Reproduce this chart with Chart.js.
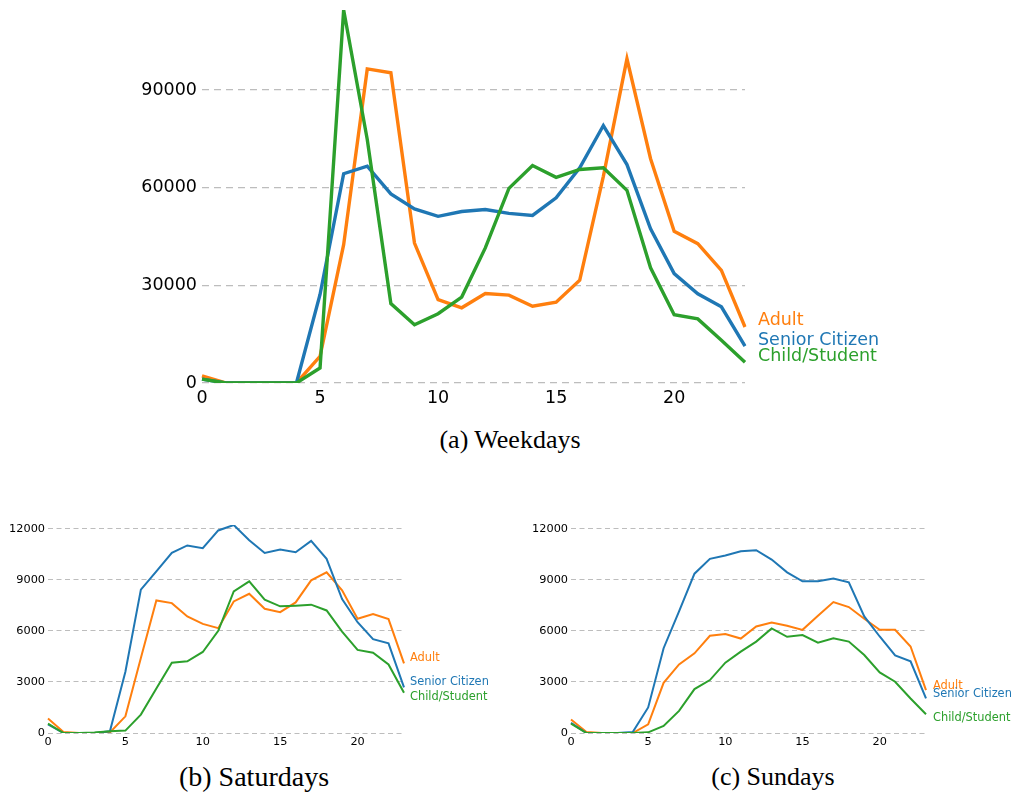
<!DOCTYPE html>
<html>
<head>
<meta charset="utf-8">
<script src="https://cdn.jsdelivr.net/npm/chart.js@4.4.1/dist/chart.umd.min.js"></script>
<style>
    body { margin: 0; background: #fff; width: 1016px; height: 794px; position: relative; overflow: hidden; }
    .box { position: absolute; }
    .caption { position: absolute; font-family: "Liberation Serif", "Times New Roman", serif; color: #000; transform: translate(-50%, -50%); white-space: nowrap; }
</style>
</head>
<body>
<div class="box" style="left:0;top:0;width:1016px;height:420px"><canvas id="weekdayChart"></canvas></div>
<div class="box" style="left:0;top:500px;width:508px;height:250px"><canvas id="saturdayChart"></canvas></div>
<div class="box" style="left:508px;top:500px;width:508px;height:250px"><canvas id="sundayChart"></canvas></div>
<div class="caption" style="left:510px;top:440px;font-size:26px">(a) Weekdays</div>
<div class="caption" style="left:254px;top:777px;font-size:28px">(b) Saturdays</div>
<div class="caption" style="left:773px;top:777px;font-size:26px">(c) Sundays</div>

<script>
// hours of the day
const hours = [0,1,2,3,4,5,6,7,8,9,10,11,12,13,14,15,16,17,18,19,20,21,22,23];
const groups = ['Adult', 'Senior Citizen', 'Child/Student'];

// weekday ridership per hour
const weekdayAdult  = [2200,0,0,0,0,8200,42500,96500,95300,43000,25600,23100,27500,27000,23600,24800,31600,63500,99600,68900,46600,42800,34600,17200];
const weekdaySenior = [1200,0,0,0,0,27200,64300,66600,58100,53500,51200,52700,53300,52100,51500,56900,66100,79100,67100,47400,33600,27400,23400,11300];
const weekdayChild  = [1200,0,0,0,0,4600,114600,74800,24400,17900,21300,26400,41500,59800,66800,63200,65600,66100,59200,35400,21000,19700,13100,6400];

// saturday
const saturdayAdult  = [850,60,0,0,30,980,4400,7790,7630,6850,6410,6160,7730,8180,7300,7100,7670,8970,9440,8380,6710,6990,6690,4090];
const saturdaySenior = [510,0,0,0,100,3600,8420,9500,10580,11020,10860,11900,12220,11330,10580,10780,10620,11290,10230,7870,6510,5510,5270,2680];
const saturdayChild  = [550,0,0,30,100,140,1080,2620,4130,4210,4760,6000,8320,8910,7830,7440,7480,7540,7200,5960,4880,4720,4030,2360];

// sunday
const sundayAdult  = [790,60,0,0,0,510,2950,4030,4680,5710,5820,5550,6260,6490,6300,6060,6890,7690,7400,6710,6060,6060,5080,2520];
const sundaySenior = [590,0,0,0,60,1500,4980,7140,9360,10230,10430,10680,10740,10190,9440,8910,8910,9070,8850,6850,5670,4560,4210,2030];
const sundayChild  = [550,0,0,0,0,40,410,1300,2580,3110,4130,4780,5370,6140,5650,5750,5310,5570,5370,4580,3560,3010,2030,1100];

const weekdayTicks = [0, 30000, 60000, 90000];
const weekendTicks = [0, 3000, 6000, 9000, 12000];

const colors = ['#ff7f0e', '#1f77b4', '#2ca02c'];

// writes each group's name just right of where its line ends
const endLabels = {
    id: 'endLabels',
    afterDatasetsDraw(chart, args, opts) {
        const ctx = chart.ctx;
        const yScale = chart.scales.y;
        ctx.save();
        ctx.font = opts.size + 'px "DejaVu Sans"';
        ctx.textAlign = 'left';
        ctx.textBaseline = 'middle';
        chart.data.datasets.forEach((ds, i) => {
            const y = yScale.getPixelForValue(ds.data[ds.data.length - 1]) + opts.dy[i];
            ctx.fillStyle = ds.borderColor;
            ctx.fillText(ds.label, chart.chartArea.right + opts.dx, y);
        });
        ctx.restore();
    }
};

function makeChart(id, series, cfg) {
    const datasets = series.map((data, i) => ({
        label: groups[i],
        data: data,
        borderColor: colors[i],
        backgroundColor: colors[i],
        borderWidth: cfg.lineWidth,
        pointRadius: 0,
        tension: 0,
        order: 3 - i
    }));
    const ctx = document.getElementById(id).getContext('2d');
    return new Chart(ctx, {
        type: 'line',
        data: { labels: hours, datasets: datasets },
        options: {
            responsive: true,
            maintainAspectRatio: false,
            animation: false,
            layout: { padding: { top: cfg.top, right: cfg.right, left: 0, bottom: 0 } },
            plugins: {
                legend: { display: false },
                tooltip: { enabled: false },
                endLabels: { size: cfg.labelSize, dx: cfg.labelDx, dy: cfg.labelDy }
            },
            scales: {
                x: {
                    type: 'category',
                    offset: false,
                    border: { display: false },
                    grid: { display: false, drawTicks: false },
                    ticks: {
                        autoSkip: false,
                        maxRotation: 0,
                        padding: cfg.xPad,
                        color: '#000',
                        font: { family: 'DejaVu Sans', size: cfg.tickSize },
                        callback: function(val, i) { return hours[i] % 5 === 0 ? String(hours[i]) : null; }
                    },
                    afterFit: function(scale) { scale.height = cfg.xHeight; }
                },
                y: {
                    min: 0,
                    max: cfg.max,
                    border: { display: false, dash: cfg.dash },
                    grid: {
                        color: '#bdbdbd',
                        lineWidth: cfg.gridWidth,
                        drawTicks: false
                    },
                    ticks: {
                        padding: cfg.yPad,
                        color: '#000',
                        font: { family: 'DejaVu Sans', size: cfg.tickSize },
                        callback: function(v) { return String(v); }
                    },
                    afterBuildTicks: function(scale) {
                        scale.ticks = cfg.ticks.map(v => ({ value: v }));
                    },
                    afterFit: function(scale) {
                        scale.width = cfg.yWidth;
                        scale.paddingTop = 0;
                        scale.paddingBottom = 0;
                    }
                }
            }
        },
        plugins: [endLabels]
    });
}

makeChart('weekdayChart', [weekdayAdult, weekdaySenior, weekdayChild], {
    max: Math.max(...weekdayAdult, ...weekdaySenior, ...weekdayChild),
    ticks: weekdayTicks,
    top: 10, right: 271, yWidth: 202, xHeight: 37,
    tickSize: 17.5, xPad: 5, yPad: 5,
    lineWidth: 3.4, gridWidth: 1.3, dash: [7, 5],
    labelSize: 17.5, labelDx: 13, labelDy: [-7, -5.5, -5.5]
});

const weekendMax = Math.max(...saturdayAdult, ...saturdaySenior, ...saturdayChild,
                            ...sundayAdult, ...sundaySenior, ...sundayChild);

makeChart('saturdayChart', [saturdayAdult, saturdaySenior, saturdayChild], {
    max: weekendMax,
    ticks: weekendTicks,
    top: 25, right: 104, yWidth: 48, xHeight: 17,
    tickSize: 11.3, xPad: 2, yPad: 3,
    lineWidth: 2, gridWidth: 1, dash: [5, 3.5],
    labelSize: 11.4, labelDx: 6, labelDy: [-5, -5, 4]
});

makeChart('sundayChart', [sundayAdult, sundaySenior, sundayChild], {
    max: weekendMax,
    ticks: weekendTicks,
    top: 25, right: 90, yWidth: 63, xHeight: 17,
    tickSize: 11.3, xPad: 2, yPad: 3,
    lineWidth: 2, gridWidth: 1, dash: [5, 3.5],
    labelSize: 11.4, labelDx: 7, labelDy: [-4, -4, 4]
});
</script>
</body>
</html>
